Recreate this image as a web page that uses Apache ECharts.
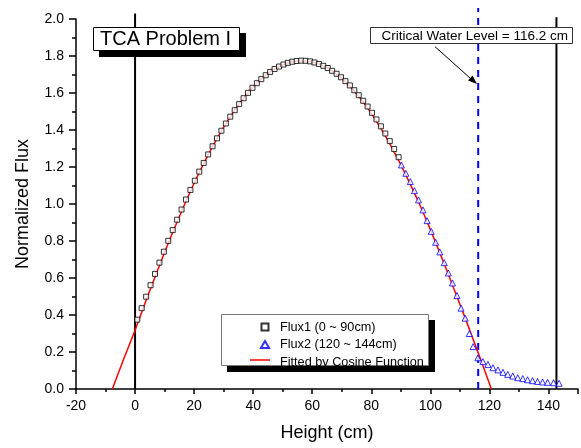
<!DOCTYPE html>
<html>
<head>
<meta charset="utf-8">
<script src="https://cdn.jsdelivr.net/npm/echarts@6/dist/echarts.min.js"></script>
<style>html,body{margin:0;padding:0;background:#fff}#c{width:581px;height:448px}</style>
</head>
<body>
<div id="c"></div>
<script>
// ---- data ----
const flux1X = [0.75,2.25,3.75,5.25,6.75,8.25,9.75,11.25,12.75,14.25,15.75,17.25,18.75,20.25,21.75,23.25,24.75,26.25,27.75,29.25,30.75,32.25,33.75,35.25,36.75,38.25,39.75,41.25,42.75,44.25,45.75,47.25,48.75,50.25,51.75,53.25,54.75,56.25,57.75,59.25,60.75,62.25,63.75,65.25,66.75,68.25,69.75,71.25,72.75,74.25,75.75,77.25,78.75,80.25,81.75,83.25,84.75,86.25,87.75,89.25];
const flux1Y = [0.375,0.437,0.499,0.561,0.622,0.683,0.742,0.801,0.859,0.915,0.970,1.024,1.076,1.126,1.175,1.222,1.268,1.312,1.355,1.396,1.435,1.472,1.507,1.540,1.572,1.601,1.628,1.653,1.675,1.696,1.714,1.730,1.743,1.754,1.763,1.769,1.773,1.775,1.774,1.771,1.765,1.757,1.747,1.735,1.720,1.704,1.685,1.664,1.641,1.615,1.588,1.558,1.527,1.493,1.457,1.420,1.381,1.340,1.297,1.253];
const flux2X = [90.2,91.7,93.2,94.6,96.0,97.5,98.9,100.3,101.8,103.2,104.7,106.1,107.5,109.0,110.4,111.8,113.2,114.5,116.1,117.8,119.5,121.2,122.9,124.6,126.2,127.9,129.6,131.3,132.9,134.6,136.3,138.0,139.7,141.7,143.6];
const flux2Y = [1.211,1.166,1.121,1.072,1.022,0.968,0.910,0.852,0.793,0.741,0.683,0.627,0.573,0.505,0.437,0.383,0.300,0.229,0.169,0.148,0.133,0.115,0.103,0.090,0.079,0.070,0.061,0.056,0.050,0.045,0.041,0.038,0.036,0.034,0.031];
const fitX = [-7.7,-4,0,4,8,12,16,20,24,28,32,36,40,44,48,52,56,60,64,68,72,76,80,84,88,92,96,100,104,108,112,116,120,120.6];
const fitY = [0,0.155,0.318,0.490,0.657,0.818,0.969,1.112,1.243,1.361,1.466,1.556,1.632,1.693,1.737,1.764,1.775,1.768,1.745,1.705,1.649,1.577,1.490,1.388,1.274,1.147,1.011,0.862,0.704,0.541,0.375,0.204,0.030,0];
const criticalLevel = 116.2;
const leftWallX = 0, rightWallX = 142.7;
const seriesNames = ['Flux1 (0 ~ 90cm)', 'Flux2 (120 ~ 144cm)', 'Fitted by Cosine Function'];
const titleText = 'TCA Problem I';
const noteText = 'Critical Water Level = 116.2 cm';

const zip = (xs, ys) => xs.map((x, i) => [x, ys[i]]);
const FONT = '"Liberation Sans", Arial, sans-serif';

const chart = echarts.init(document.getElementById('c'), null, {renderer: 'canvas'});
const vline = (x, top, color, width, type) => ({
  type: 'line', data: [[x, 0], [x, top]], symbol: 'none', clip: false, silent: true,
  lineStyle: {color, width, type}, z: 1, legendHoverLink: false
});

chart.setOption({
  animation: false,
  backgroundColor: '#fff',
  grid: {left: 76, right: 0, top: 19, bottom: 59},
  xAxis: {
    type: 'value', min: -20, max: 150, interval: 20,
    name: 'Height (cm)', nameLocation: 'middle', nameGap: 35,
    nameTextStyle: {fontFamily: FONT, fontSize: 18, color: '#000'},
    axisLine: {onZero: false, lineStyle: {color: '#000', width: 1.5}},
    axisTick: {length: 5, lineStyle: {color: '#000', width: 1.5}},
    minorTick: {show: true, splitNumber: 2, length: 3, lineStyle: {color: '#000', width: 1.5}},
    splitLine: {show: false},
    axisLabel: {fontFamily: FONT, fontSize: 14, color: '#000', margin: 10,
      formatter: v => (v % 20 === 0 ? String(v) : '')}
  },
  yAxis: {
    type: 'value', min: 0, max: 2, interval: 0.2,
    name: 'Normalized Flux', nameLocation: 'middle', nameGap: 44,
    nameTextStyle: {fontFamily: FONT, fontSize: 18, color: '#000'},
    axisLine: {show: true, onZero: false, lineStyle: {color: '#000', width: 1.5}},
    axisTick: {show: true, length: 7, lineStyle: {color: '#000', width: 1.5}},
    minorTick: {show: true, splitNumber: 2, length: 4, lineStyle: {color: '#000', width: 1.5}},
    splitLine: {show: false},
    axisLabel: {fontFamily: FONT, fontSize: 14, color: '#000', margin: 12,
      formatter: v => v.toFixed(1)}
  },
  legend: {
    data: [
      {name: seriesNames[0], icon: 'path://M0,0L7,0L7,7L0,7Z'},
      {name: seriesNames[1], icon: 'path://M3.5,0L7,6L0,6Z'},
      {name: seriesNames[2], icon: 'none'}
    ],
    orient: 'vertical', left: 250, top: 315,
    itemWidth: 20, itemHeight: 7, itemGap: 3.5, z: 20, symbolKeepAspect: true,
    textStyle: {fontFamily: FONT, fontSize: 12.7, color: '#000', lineHeight: 14},
    selectedMode: false
  },
  series: [
    vline(leftWallX, 2.03, '#000', 2, 'solid'),
    vline(rightWallX, 2.01, '#000', 2, 'solid'),
    vline(criticalLevel, 2.06, '#0000ff', 2, [7, 6]),
    {name: seriesNames[2], type: 'line', data: zip(fitX, fitY), symbol: 'none', smooth: 0.2,
     lineStyle: {color: '#ff0000', width: 1.5}, itemStyle: {color: '#ff0000'}, z: 3},
    {name: seriesNames[0], type: 'scatter', data: zip(flux1X, flux1Y), symbol: 'rect', symbolSize: 5,
     itemStyle: {color: '#fff', borderColor: '#000', borderWidth: 1}, z: 4},
    {name: seriesNames[1], type: 'scatter', data: zip(flux2X, flux2Y), symbol: 'triangle', symbolSize: 6,
     itemStyle: {color: '#fff', borderColor: '#0000ff', borderWidth: 1}, z: 4}
  ],
  graphic: [
    {type: 'rect', z: 10, shape: {x: 99, y: 33, width: 147, height: 24}, style: {fill: '#000'}},
    {type: 'rect', z: 11, shape: {x: 93.5, y: 27.5, width: 146, height: 23}, style: {fill: '#fff', stroke: '#000', lineWidth: 1}},
    {type: 'text', z: 12, style: {x: 100, y: 39.5, text: titleText, font: '20px ' + FONT, fill: '#000', verticalAlign: 'middle'}},
    {type: 'rect', z: 10, shape: {x: 370.5, y: 27.5, width: 202, height: 16}, style: {fill: '#fff', stroke: '#333', lineWidth: 1}},
    {type: 'text', z: 12, style: {x: 381.5, y: 36, text: noteText, font: '13.5px ' + FONT, fill: '#000', verticalAlign: 'middle'}},
    {type: 'line', z: 10, shape: {x1: 435, y1: 46.7, x2: 472, y2: 79.8}, style: {stroke: '#000', lineWidth: 1}},
    {type: 'polygon', z: 10, shape: {points: [[477, 84], [468, 80.6], [472.6, 75.4]]}, style: {fill: '#000'}},
    {type: 'rect', z: 8, shape: {x: 227, y: 320, width: 208, height: 52}, style: {fill: '#000'}},
    {type: 'rect', z: 9, shape: {x: 221.5, y: 314.5, width: 207, height: 51}, style: {fill: '#fff', stroke: '#777', lineWidth: 1}},
    {type: 'line', z: 25, shape: {x1: 250, y1: 360, x2: 270, y2: 360}, style: {stroke: '#ff0000', lineWidth: 1.5}}
  ]
});
</script>
</body>
</html>
